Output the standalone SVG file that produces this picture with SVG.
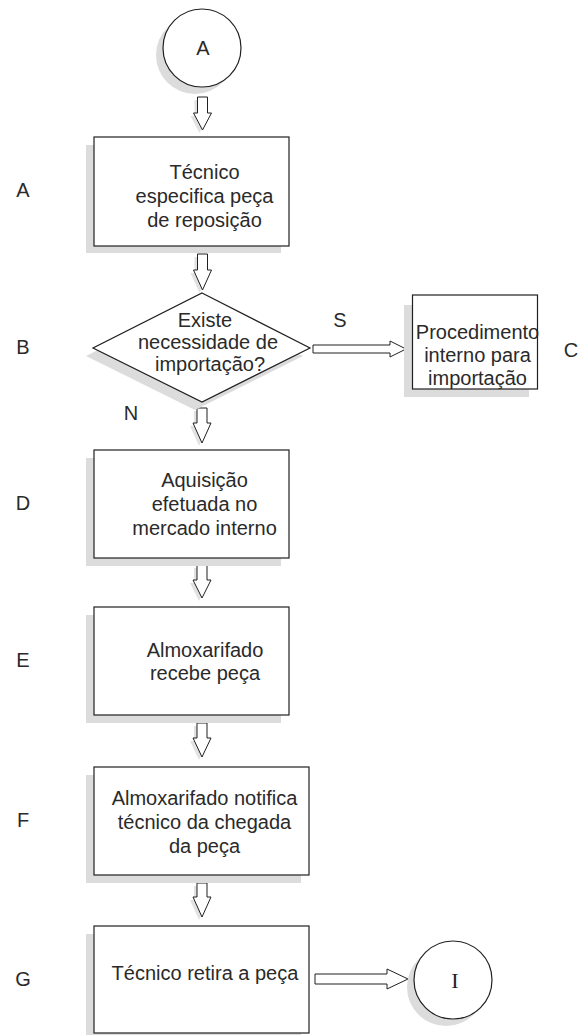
<svg xmlns="http://www.w3.org/2000/svg" width="579" height="1035" viewBox="0 0 579 1035">
<defs>
<style>
.sh{fill:#dcdcdc;stroke:none}
.bx{fill:#fff;stroke:#231f20;stroke-width:1.2}
.ar{fill:#fff;stroke:#231f20;stroke-width:1}
.ash{fill:#e2e2e2;stroke:none}
.t{font-family:"Liberation Sans",Arial,sans-serif;font-size:20px;fill:#2a2a2a;text-anchor:middle}
.lb{font-family:"Liberation Sans",Arial,sans-serif;font-size:20px;fill:#2a2a2a;text-anchor:middle}
.serif{font-family:"Liberation Serif","Times New Roman",serif;font-size:22px;fill:#231f20;text-anchor:middle}
</style>
</defs>
<rect width="579" height="1035" fill="#fff"/>

<g id="connectors">
  <polygon class="ash" points="194.5,100 204.5,100 204.5,116 208.5,116 199.5,133 190.5,116 194.5,116"/>
  <polygon class="ar" points="197.5,97 207.5,97 207.5,113 211.5,113 202.5,130 193.5,113 197.5,113"/>
  <polygon class="ash" points="194.5,257 204.5,257 204.5,273 208.5,273 199.5,293 190.5,273 194.5,273"/>
  <polygon class="ar" points="197.5,254 207.5,254 207.5,270 211.5,270 202.5,290 193.5,270 197.5,270"/>
  <polygon class="ash" points="194,411 204,411 204,426 208,426 199,446 190,426 194,426"/>
  <polygon class="ar" points="197,408 207,408 207,423 211,423 202,443 193,423 197,423"/>
  <polygon class="ash" points="194,568 204,568 204,583 208,583 199,601 190,583 194,583"/>
  <polygon class="ar" points="197,565 207,565 207,580 211,580 202,598 193,580 197,580"/>
  <polygon class="ash" points="194,726 204,726 204,741 208,741 199,760 190,741 194,741"/>
  <polygon class="ar" points="197,723 207,723 207,738 211,738 202,757 193,738 197,738"/>
  <polygon class="ash" points="194,886 204,886 204,900 208,900 199,920 190,900 194,900"/>
  <polygon class="ar" points="197,883 207,883 207,897 211,897 202,917 193,897 197,897"/>
  <polygon class="ar" points="313,345 390,345 390,341 406,349 390,357 390,353 313,353"/>
  <polygon class="ar" points="315,974 387,974 387,969 408,979 387,989 387,984 315,984"/>
</g>

<g id="start-A">
  <circle class="sh" cx="195" cy="55" r="39"/>
  <circle class="bx" cx="202" cy="48" r="39"/>
  <text class="t" x="203" y="55">A</text>
</g>

<g id="node-A">
  <rect class="sh" x="86" y="145" width="195" height="108"/>
  <rect class="bx" x="94" y="137" width="195" height="109"/>
  <text class="t" x="204.5" y="179">Técnico</text>
  <text class="t" x="204.5" y="203">especifica peça</text>
  <text class="t" x="204.5" y="227">de reposição</text>
</g>

<g id="node-B">
  <polygon class="sh" points="195,301 86,356 195,410 303,356"/>
  <polygon class="bx" points="202,293 310,348 202,402 93,348"/>
  <text class="t" x="205" y="327" font-size="19.5">Existe</text>
  <text class="t" x="208" y="349" font-size="19.5">necessidade de</text>
  <text class="t" x="210" y="371" font-size="19.5">importação?</text>
</g>

<g id="node-C">
  <rect class="sh" x="404" y="305" width="125" height="92"/>
  <rect class="bx" x="412.5" y="295" width="125" height="94"/>
  <text class="t" x="477.5" y="339" font-size="18.5">Procedimento</text>
  <text class="t" x="477.5" y="362" font-size="18.5">interno para</text>
  <text class="t" x="477.5" y="385" font-size="18.5">importação</text>
</g>

<g id="node-D">
  <rect class="sh" x="86" y="458" width="195" height="108"/>
  <rect class="bx" x="94" y="450" width="195" height="108"/>
  <text class="t" x="204.5" y="487">Aquisição</text>
  <text class="t" x="204.5" y="511">efetuada no</text>
  <text class="t" x="204.5" y="535">mercado interno</text>
</g>

<g id="node-E">
  <rect class="sh" x="86" y="615" width="195" height="108"/>
  <rect class="bx" x="94" y="607" width="195" height="108"/>
  <text class="t" x="205" y="657">Almoxarifado</text>
  <text class="t" x="205" y="680">recebe peça</text>
</g>

<g id="node-F">
  <rect class="sh" x="86" y="775" width="215" height="108"/>
  <rect class="bx" x="94" y="767" width="215" height="108"/>
  <text class="t" x="204.5" y="805">Almoxarifado notifica</text>
  <text class="t" x="204.5" y="829">técnico da chegada</text>
  <text class="t" x="204.5" y="853">da peça</text>
</g>

<g id="node-G">
  <rect class="sh" x="86" y="934" width="215" height="108"/>
  <rect class="bx" x="94" y="926" width="215" height="107"/>
  <text class="t" x="205" y="980">Técnico retira a peça</text>
</g>

<g id="end-I">
  <circle class="sh" cx="446" cy="987" r="39"/>
  <circle class="bx" cx="453" cy="980" r="39"/>
  <text class="serif" x="455" y="988">I</text>
</g>

<g id="labels">
  <text class="lb" x="23" y="197">A</text>
  <text class="lb" x="23" y="354">B</text>
  <text class="lb" x="23" y="510">D</text>
  <text class="lb" x="23" y="667">E</text>
  <text class="lb" x="23" y="827">F</text>
  <text class="lb" x="23" y="986">G</text>
  <text class="lb" x="340" y="327">S</text>
  <text class="lb" x="131" y="420">N</text>
  <text class="lb" x="571" y="357" text-anchor="start">C</text>
</g>
</svg>
